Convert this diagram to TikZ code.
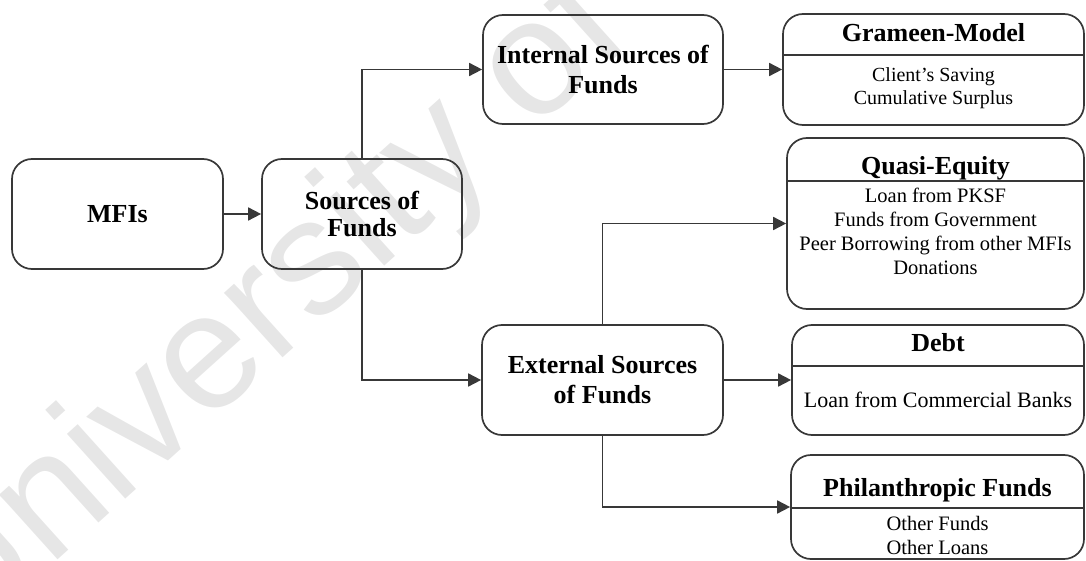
\documentclass[tikz,border=0pt]{standalone}
\usepackage{fontspec}
\setmainfont{Liberation Serif}
\newfontfamily\wmfont{Liberation Sans}
\usetikzlibrary{arrows.meta}
\definecolor{linec}{HTML}{383838}
\definecolor{wmgray}{HTML}{E6E6E6}
\begin{document}
\begin{tikzpicture}[x=1pt,y=-1pt,
  box/.style={draw=linec, line width=1.7pt, rounded corners=20pt, inner sep=0pt, align=center},
  ttl/.style={font=\fontsize{26}{30}\selectfont\bfseries, align=center, inner sep=0pt},
  body/.style={font=\fontsize{20.5}{24}\selectfont, align=center, inner sep=0pt},
  link/.style={draw=linec, line width=1.7pt, -{Triangle[length=13pt,width=13pt]}},
  divider/.style={draw=linec, line width=1.7pt}]
\useasboundingbox (0,0) rectangle (1086,561);
\clip (0,0) rectangle (1086,561);
% watermark
\node[text=wmgray, font=\wmfont\fontsize{165}{165}\selectfont, rotate=42, anchor=base west] (wm) at (-42,650) {University of};
% left part
\node[box, minimum width=211pt, minimum height=110pt, ttl] (mfi) at (117.5,214) {MFIs};
\node[box, minimum width=200pt, minimum height=110pt, ttl, font=\fontsize{26}{27}\selectfont\bfseries] (src) at (362,214) {Sources of\\Funds};
\node[box, minimum width=240pt, minimum height=109pt, ttl] (int) at (603,69.5) {Internal Sources of\\Funds};
\node[box, minimum width=241pt, minimum height=110pt, ttl] (ext) at (602.5,380) {External Sources\\of Funds};
% right boxes
\node[box, minimum width=301pt, minimum height=111pt] (gram) at (933.5,69.5) {};
\node[box, minimum width=297pt, minimum height=171pt] (quasi) at (935.5,223.5) {};
\node[box, minimum width=292pt, minimum height=110pt] (debt) at (938,380) {};
\node[box, minimum width=293pt, minimum height=104pt] (phil) at (937.5,507) {};
% dividers
\draw[divider] ([yshift=-42pt]gram.north west) -- ([yshift=-42pt]gram.north east);
\draw[divider] ([yshift=-44pt]quasi.north west) -- ([yshift=-44pt]quasi.north east);
\draw[divider] ([yshift=-42pt]debt.north west) -- ([yshift=-42pt]debt.north east);
\draw[divider] ([yshift=-54pt]phil.north west) -- ([yshift=-54pt]phil.north east);
% titles and contents
\node[ttl] (gramT) at (933.5,33) {Grameen-Model};
\node[body, font=\fontsize{20}{23}\selectfont] (gramB) at (933.5,88.5) {Client’s Saving\\Cumulative Surplus};
\node[ttl] (quasiT) at (935.5,168) {Quasi-Equity};
\node[body] (quasiB) at (935.5,231) {Loan from PKSF\\Funds from Government\\Peer Borrowing from other MFIs\\Donations};
\node[ttl] (debtT) at (938,343) {Debt};
\node[body, font=\fontsize{22}{24}\selectfont] (debtB) at (938,400) {Loan from Commercial Banks};
\node[ttl] (philT) at (937.5,490) {Philanthropic Funds};
\node[body] (philB) at (937.5,535) {Other Funds\\Other Loans};
% connectors
\draw[link] (mfi) -- (src);
\draw[link] (src.north) |- (int.west);
\draw[link] (src.south) |- (ext.west);
\draw[link] (int) -- (gram);
\draw[link] (ext.north) |- (quasi.west);
\draw[link] (ext) -- (debt);
\draw[link] (ext.south) |- (phil.west);
\end{tikzpicture}
\end{document}
